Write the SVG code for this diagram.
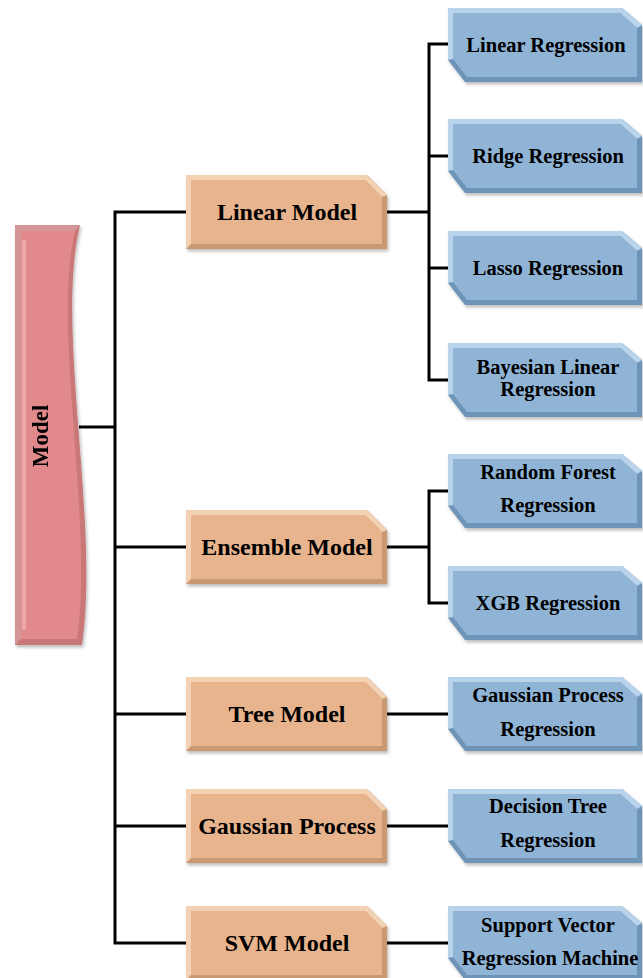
<svg xmlns="http://www.w3.org/2000/svg" xmlns:xlink="http://www.w3.org/1999/xlink" width="643" height="978" viewBox="0 0 643 978">
<style>
.lbl{font-family:"Liberation Serif","Times New Roman",serif;font-weight:bold;fill:#000;text-anchor:middle}
.o{font-size:24px}
.b{font-size:20.5px}
.m{font-size:23px}
.wire{fill:none;stroke:#000;stroke-width:3;stroke-linejoin:miter}
</style>
<defs>
<filter id="sh" x="-5%" y="-5%" width="115%" height="120%">
<feDropShadow dx="1.5" dy="2.5" stdDeviation="1.5" flood-color="#000" flood-opacity="0.25"/>
</filter>
<g id="obox" filter="url(#sh)">
<path d="M0,0 H181 L201,20 V74 H0 Z" fill="#C89973"/>
<path d="M0,0 H181 L201,20 L196,22 L179,5 H5 V69 L0,74 Z" fill="#F2D2B2"/>
<path d="M5,5 H179 L196,22 V69 H5 Z" fill="#E8B48D"/>
</g>
<g id="bbox" filter="url(#sh)">
<path d="M0,0 H174 L194,17 V74 H17 L0,52 Z" fill="#6E94B7"/>
<path d="M0,0 H174 L194,17 L189,20 L172,5 H5 V51 L0,52 Z" fill="#B8D3EA"/>
<path d="M5,5 H172 L189,20 V69 H19 L5,51 Z" fill="#8FB4D6"/>
</g>
</defs>

<g id="connectors">
<path class="wire" d="M79,427 H115"/>
<path class="wire" d="M186,212 H115 V943 H186"/>
<path class="wire" d="M115,547 H186"/>
<path class="wire" d="M115,714 H186"/>
<path class="wire" d="M115,826 H186"/>
<path class="wire" d="M387,212 H429"/>
<path class="wire" d="M448,44 H429 V380 H448"/>
<path class="wire" d="M429,156 H448"/>
<path class="wire" d="M429,268 H448"/>
<path class="wire" d="M387,547 H429"/>
<path class="wire" d="M448,491 H429 V603 H448"/>
<path class="wire" d="M387,714 H448"/>
<path class="wire" d="M387,826 H448"/>
<path class="wire" d="M387,943 H448"/>
</g>

<g id="model" filter="url(#sh)">
<path d="M15,225 H80 C55,330 100,520 82,645 H15 Z" fill="#C97777"/>
<path d="M15,225 H80 L75,231 H21 V639 L15,645 Z" fill="#D49596"/>
<path d="M21,231 H75 C52,332 94,520 77,639 H21 Z" fill="#E28A8B"/>
<path d="M22,240 H26 V630 H22 Z" fill="#EDB0B0" opacity="0.8"/>
<text class="lbl m" transform="translate(48,436) rotate(-90)">Model</text>
</g>

<g id="linear-model"><use xlink:href="#obox" x="186" y="175"/><text class="lbl o" x="287" y="220">Linear Model</text></g>
<g id="ensemble-model"><use xlink:href="#obox" x="186" y="510"/><text class="lbl o" x="287" y="555">Ensemble Model</text></g>
<g id="tree-model"><use xlink:href="#obox" x="186" y="677"/><text class="lbl o" x="287" y="722">Tree Model</text></g>
<g id="gaussian-process"><use xlink:href="#obox" x="186" y="789"/><text class="lbl o" x="287" y="834">Gaussian Process</text></g>
<g id="svm-model"><use xlink:href="#obox" x="186" y="906"/><text class="lbl o" x="287" y="951">SVM Model</text></g>

<g id="linear-regression"><use xlink:href="#bbox" x="448" y="8"/><text class="lbl b" x="546" y="52">Linear Regression</text></g>
<g id="ridge-regression"><use xlink:href="#bbox" x="448" y="119"/><text class="lbl b" x="548" y="163">Ridge Regression</text></g>
<g id="lasso-regression"><use xlink:href="#bbox" x="448" y="231"/><text class="lbl b" x="548" y="275">Lasso Regression</text></g>
<g id="bayesian-linear-regression"><use xlink:href="#bbox" x="448" y="343"/><text class="lbl b" x="548" y="374">Bayesian Linear</text><text class="lbl b" x="548" y="396">Regression</text></g>
<g id="random-forest-regression"><use xlink:href="#bbox" x="448" y="454"/><text class="lbl b" x="548" y="479">Random Forest</text><text class="lbl b" x="548" y="512">Regression</text></g>
<g id="xgb-regression"><use xlink:href="#bbox" x="448" y="566"/><text class="lbl b" x="548" y="610">XGB Regression</text></g>
<g id="gaussian-process-regression"><use xlink:href="#bbox" x="448" y="677"/><text class="lbl b" x="548" y="702">Gaussian Process</text><text class="lbl b" x="548" y="736">Regression</text></g>
<g id="decision-tree-regression"><use xlink:href="#bbox" x="448" y="789"/><text class="lbl b" x="548" y="813">Decision Tree</text><text class="lbl b" x="548" y="847">Regression</text></g>
<g id="svr-machine"><use xlink:href="#bbox" x="448" y="906"/><text class="lbl b" x="548" y="932">Support Vector</text><text class="lbl b" x="550" y="965">Regression Machine</text></g>
</svg>
